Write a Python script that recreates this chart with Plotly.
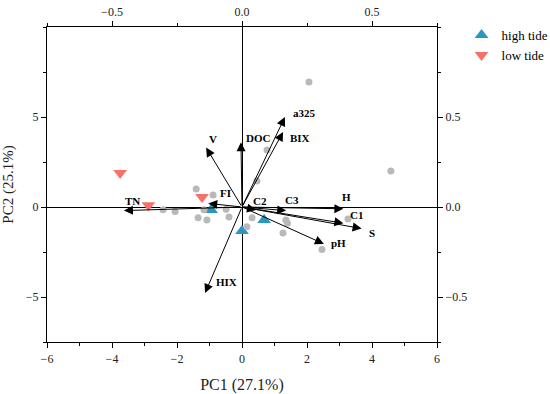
import plotly.graph_objects as go

# ---- sample scores (PC1, PC2) ----
other_pc1 = [2.06, 0.77, 4.58, 0.46, -1.41, -0.89, -2.43, -2.06, -1.35, -1.08,
             -1.17, -0.49, -0.40, 0.31, 1.35, 1.40, 1.26, 2.46, 3.26, 0.15]
other_pc2 = [6.94, 3.17, 2.00, 1.45, 1.00, 0.67, -0.15, -0.25, -0.60, -0.72,
             -0.15, -0.12, -0.55, -0.60, -0.72, -0.90, -1.44, -2.36, -0.67, -1.10]

high_pc1 = [0.00, 0.68, -0.95]
high_pc2 = [-1.33, -0.72, -0.17]

low_pc1 = [-3.75, -2.88, -1.23]
low_pc2 = [1.89, 0.10, 0.56]

# ---- variable loadings ----
var_names = ['a325', 'BIX', 'DOC', 'V', 'FI', 'TN', 'C2', 'C3', 'H', 'C1', 'S', 'pH', 'HIX']
load_pc1 = [0.165, 0.158, -0.004, -0.138, -0.130, -0.454, 0.054, 0.170, 0.390, 0.390, 0.460, 0.315, -0.142]
load_pc2 = [0.500, 0.417, 0.360, 0.330, 0.020, -0.020, -0.017, -0.020, -0.010, -0.090, -0.120, -0.205, -0.478]

# label offsets in pixels (style)
label_shift = {
    'a325': (6, 4), 'BIX': (5, -6), 'DOC': (3, 4), 'V': (1, 9), 'FI': (10, 10),
    'TN': (-1, 10), 'C2': (-5, 9), 'C3': (-3, 11), 'H': (-3, 12), 'C1': (5, 8),
    'S': (5, -4), 'pH': (5, 1), 'HIX': (9, 11),
}

FONT = 'Liberation Serif'

fig = go.Figure()
fig.add_trace(go.Scatter(x=high_pc1, y=high_pc2, mode='markers', name='high tide',
                         marker=dict(color='#2a97c2', size=12, symbol='triangle-up'),
                         xaxis='x', yaxis='y'))
fig.add_trace(go.Scatter(x=low_pc1, y=low_pc2, mode='markers', name='low tide',
                         marker=dict(color='#f7716a', size=12, symbol='triangle-down'),
                         xaxis='x', yaxis='y'))
fig.add_trace(go.Scatter(x=other_pc1, y=other_pc2, mode='markers',
                         marker=dict(color='#b9b9b9', size=7), showlegend=False,
                         xaxis='x', yaxis='y'))
# invisible trace to activate secondary axes
fig.add_trace(go.Scatter(x=[0], y=[0], mode='markers', marker=dict(opacity=0),
                         showlegend=False, hoverinfo='skip', xaxis='x2', yaxis='y2'))

annotations = []
for n, lx, ly in zip(var_names, load_pc1, load_pc2):
    annotations.append(dict(x=lx, y=ly, xref='x2', yref='y2', ax=0, ay=0,
                            axref='x2', ayref='y2', showarrow=True, text='',
                            arrowhead=2, arrowsize=1.8, arrowwidth=1, arrowcolor='black'))
for n, lx, ly in zip(var_names, load_pc1, load_pc2):
    dx, dy = label_shift[n]
    annotations.append(dict(x=lx, y=ly, xref='x2', yref='y2', showarrow=False, text='<b>%s</b>' % n,
                            xanchor='left', yanchor='middle', xshift=dx, yshift=dy,
                            font=dict(family=FONT, size=11, color='black')))

tickfont = dict(family=FONT, size=12, color='#222')
axis_common = dict(showgrid=False, showline=True, linecolor='black', linewidth=1.2, automargin=False,
                   ticks='outside', ticklen=5, tickwidth=1, tickcolor='black', tickfont=tickfont)

fig.update_layout(
    width=550, height=394,
    margin=dict(l=47, r=113, t=27, b=52, autoexpand=False),
    paper_bgcolor='white', plot_bgcolor='white',
    xaxis=dict(range=[-6, 6], tickmode='linear', tick0=0, dtick=2,
               minor=dict(tickmode='linear', tick0=1, dtick=2, ticklen=3, ticks='outside', tickcolor='black'),
               zeroline=True, zerolinecolor='black', zerolinewidth=1.2,
               title=dict(text='PC1 (27.1%)', font=dict(family=FONT, size=16, color='#222')),
               **axis_common),
    yaxis=dict(range=[-7.5, 10], tickmode='array', tickvals=[-5, 0, 5], ticktext=['−5', '0', '5'],
               minor=dict(tickmode='array', tickvals=[-7.5, -2.5, 2.5, 7.5, 10], ticklen=3, ticks='outside', tickcolor='black'),
               zeroline=True, zerolinecolor='black', zerolinewidth=1.2,
               title=dict(text='PC2 (25.1%)', font=dict(family=FONT, size=15, color='#222')),
               **axis_common),
    xaxis2=dict(range=[-0.75, 0.75], overlaying='x', side='top', anchor='y',
                tickmode='array', tickvals=[-0.5, 0, 0.5], ticktext=['−0.5', '0.0', '0.5'],
                minor=dict(tickmode='array', tickvals=[-0.75, -0.25, 0.25, 0.75], ticklen=3, ticks='outside', tickcolor='black'),
                zeroline=False, **axis_common),
    yaxis2=dict(range=[-0.75, 1.0], overlaying='y', side='right', anchor='x',
                tickmode='array', tickvals=[-0.5, 0, 0.5], ticktext=['−0.5', '0.0', '0.5'],
                minor=dict(tickmode='array', tickvals=[-0.75, -0.25, 0.25, 0.75, 1.0], ticklen=3, ticks='outside', tickcolor='black'),
                zeroline=False, **axis_common),
    legend=dict(x=1.063, y=1.022, xanchor='left', yanchor='top', bgcolor='rgba(0,0,0,0)',
                font=dict(family=FONT, size=13, color='black'), tracegroupgap=0, itemsizing='constant'),
    annotations=annotations,
)

fig.write_html('out.html', config={'displayModeBar': False},
               post_script="document.body.style.margin='0';document.body.style.padding='0';")
